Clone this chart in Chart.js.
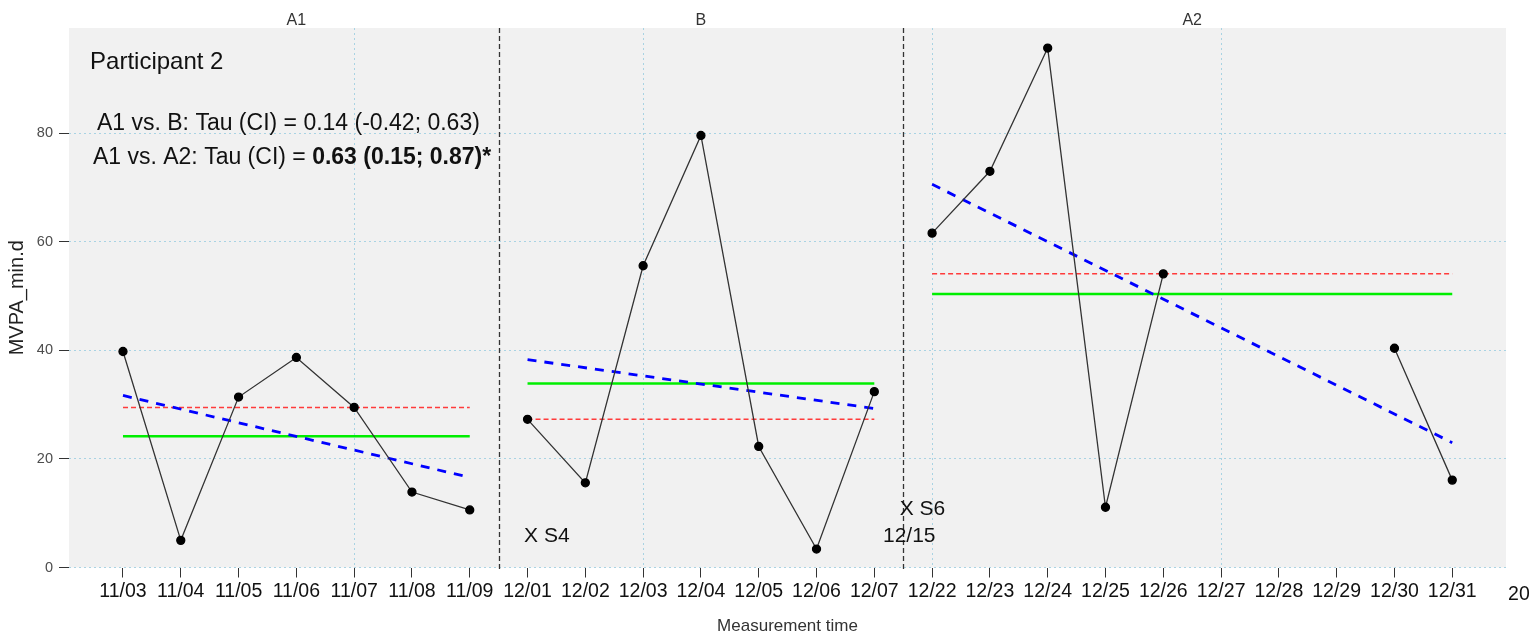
<!DOCTYPE html>
<html>
<head>
<meta charset="utf-8">
<script src="https://cdn.jsdelivr.net/npm/chart.js@4.4.1/dist/chart.umd.min.js"></script>
<style>
  body { margin: 0; background: #fff; }
  #wrap { width: 1529px; height: 639px; }
</style>
</head>
<body>
<div id="wrap"><canvas id="mvpaChart" width="1529" height="639"></canvas></div>
<script>
// measurement days (x categories)
const dayLabels = [
  '11/03', '11/04', '11/05', '11/06', '11/07', '11/08', '11/09',
  '12/01', '12/02', '12/03', '12/04', '12/05', '12/06', '12/07',
  '12/22', '12/23', '12/24', '12/25', '12/26', '12/27', '12/28', '12/29', '12/30', '12/31',
];
const overflowLabel = '20';

// MVPA minutes per day (null = no measurement)
const mvpaValues = [
  39.8, 5.0, 31.4, 38.7, 29.5, 13.9, 10.6,
  27.3, 15.6, 55.6, 79.6, 22.3, 3.4, 32.4,
  61.6, 73.0, 95.7, 11.1, 54.1, null, null, null, 40.4, 16.1,
];

// phases
const phaseNames = ['A1', 'B', 'A2'];
const phaseStart = [0, 7, 14];
const phaseEnd = [6, 13, 23];
const phaseMean = [24.2, 33.9, 50.4];
const phaseMedian = [29.5, 27.3, 54.1];
const trendStart = [31.7, 38.3, 70.6];
const trendEnd = [16.6, 29.3, 23.0];

const yTicks = [0, 20, 40, 60, 80];

// text notes, anchored in data units (x = day index, y = minutes)
const notes = [
  { text: 'Participant 2', x: -0.57, y: 91.9, size: 24 },
  { text: 'A1 vs. B: Tau (CI) = 0.14 (-0.42; 0.63)', x: -0.45, y: 80.6, size: 23 },
  { text: 'A1 vs. A2: Tau (CI) = ', bold: '0.63 (0.15; 0.87)*', x: -0.52, y: 74.4, size: 23 },
  { text: 'X S4', x: 6.94, y: 4.7, size: 21 },
  { text: 'X S6', x: 13.44, y: 9.7, size: 21 },
  { text: '12/15', x: 13.15, y: 4.7, size: 21 },
];

const FONT = '"Liberation Sans", Arial, sans-serif';

function pointsFor(p) {
  const pts = [];
  for (let i = phaseStart[p]; i <= phaseEnd[p]; i++) {
    pts.push({ x: i, y: mvpaValues[i] });
  }
  return pts;
}

const datasets = [];
phaseNames.forEach((name, p) => {
  datasets.push({
    label: name,
    data: pointsFor(p),
    borderColor: '#333',
    borderWidth: 1.3,
    pointBackgroundColor: '#000',
    pointBorderColor: '#000',
    pointRadius: 4,
    spanGaps: false,
  });
});
phaseNames.forEach((name, p) => {
  datasets.push({
    label: name + ' trend',
    data: [{ x: phaseStart[p], y: trendStart[p] }, { x: phaseEnd[p], y: trendEnd[p] }],
    borderColor: '#0000ff',
    borderWidth: 2.8,
    borderDash: [9, 8],
    pointRadius: 0,
  });
  datasets.push({
    label: name + ' mean',
    data: [{ x: phaseStart[p], y: phaseMean[p] }, { x: phaseEnd[p], y: phaseMean[p] }],
    borderColor: '#00ee00',
    borderWidth: 2.5,
    pointRadius: 0,
  });
  datasets.push({
    label: name + ' median',
    data: [{ x: phaseStart[p], y: phaseMedian[p] }, { x: phaseEnd[p], y: phaseMedian[p] }],
    borderColor: '#ff3b3b',
    borderWidth: 1.5,
    borderDash: [5, 3],
    pointRadius: 0,
  });
});

const decorPlugin = {
  id: 'decor',
  beforeDraw(chart) {
    const { ctx, chartArea: a } = chart;
    ctx.save();
    ctx.fillStyle = '#f1f1f1';
    ctx.fillRect(a.left, a.top, a.right - a.left, a.bottom - a.top);
    ctx.restore();
  },
  afterDatasetsDraw(chart) {
    const { ctx, chartArea: a, scales: { x, y } } = chart;
    ctx.save();
    // phase separators
    ctx.strokeStyle = '#333';
    ctx.lineWidth = 1.3;
    ctx.setLineDash([5, 3]);
    for (let p = 1; p < phaseNames.length; p++) {
      const px = Math.round(x.getPixelForValue((phaseEnd[p - 1] + phaseStart[p]) / 2)) + 0.5;
      ctx.beginPath();
      ctx.moveTo(px, a.top);
      ctx.lineTo(px, a.bottom + 3);
      ctx.stroke();
    }
    ctx.setLineDash([]);

    // phase titles
    ctx.fillStyle = '#333';
    ctx.font = '16px ' + FONT;
    ctx.textAlign = 'center';
    ctx.textBaseline = 'alphabetic';
    phaseNames.forEach((name, p) => {
      ctx.fillText(name, x.getPixelForValue((phaseStart[p] + phaseEnd[p]) / 2), a.top - 3);
    });

    // notes
    ctx.fillStyle = '#111';
    ctx.textAlign = 'left';
    notes.forEach((n) => {
      const px = x.getPixelForValue(n.x);
      const py = y.getPixelForValue(n.y);
      ctx.font = n.size + 'px ' + FONT;
      ctx.fillText(n.text, px, py);
      if (n.bold) {
        const w = ctx.measureText(n.text).width;
        ctx.font = 'bold ' + n.size + 'px ' + FONT;
        ctx.fillText(n.bold, px + w, py);
      }
    });

    // clipped label past the last day
    ctx.font = '19.5px ' + FONT;
    ctx.fillText(overflowLabel, x.getPixelForValue(dayLabels.length) - 2, a.bottom + 32);
    ctx.restore();
  },
};

new Chart(document.getElementById('mvpaChart'), {
  type: 'line',
  data: { datasets },
  plugins: [decorPlugin],
  options: {
    responsive: false,
    animation: false,
    layout: { padding: { top: 28, right: 23, left: 0, bottom: 0 } },
    plugins: {
      legend: { display: false },
      tooltip: { enabled: false },
    },
    scales: {
      x: {
        type: 'linear',
        min: -0.934,
        max: 23.93,
        afterFit: (s) => { s.height = 71.5; },
        border: { display: false, dash: [2, 3] },
        grid: {
          color: (c) => (c.tick && c.tick.value % 5 === 4 ? '#a9d3e3' : 'rgba(0,0,0,0)'),
          tickColor: '#333',
          tickLength: 10,
          tickWidth: 1,
          lineWidth: 1,
        },
        ticks: {
          stepSize: 1,
          includeBounds: false,
          autoSkip: false,
          maxRotation: 0,
          minRotation: 0,
          padding: 2,
          color: '#111',
          font: { family: FONT, size: 19.5 },
          callback: (v) => dayLabels[v] ?? '',
        },
        title: {
          display: true,
          text: 'Measurement time',
          color: '#333',
          font: { family: FONT, size: 17 },
          padding: { top: 0, bottom: 2 },
        },
      },
      y: {
        min: 0,
        max: 99.4,
        afterFit: (s) => { s.width = 69; },
        afterBuildTicks: (s) => { s.ticks = yTicks.map((v) => ({ value: v })); },
        border: { display: false, dash: [2, 3] },
        grid: {
          color: '#a9d3e3',
          tickColor: '#333',
          tickLength: 10,
          lineWidth: 1,
        },
        ticks: {
          padding: 6,
          color: '#4d4d4d',
          font: { family: FONT, size: 14.5 },
        },
        title: {
          display: true,
          text: 'MVPA_min.d',
          color: '#222',
          font: { family: FONT, size: 20 },
          padding: { top: 5, bottom: 0 },
        },
      },
    },
  },
});
</script>
</body>
</html>
